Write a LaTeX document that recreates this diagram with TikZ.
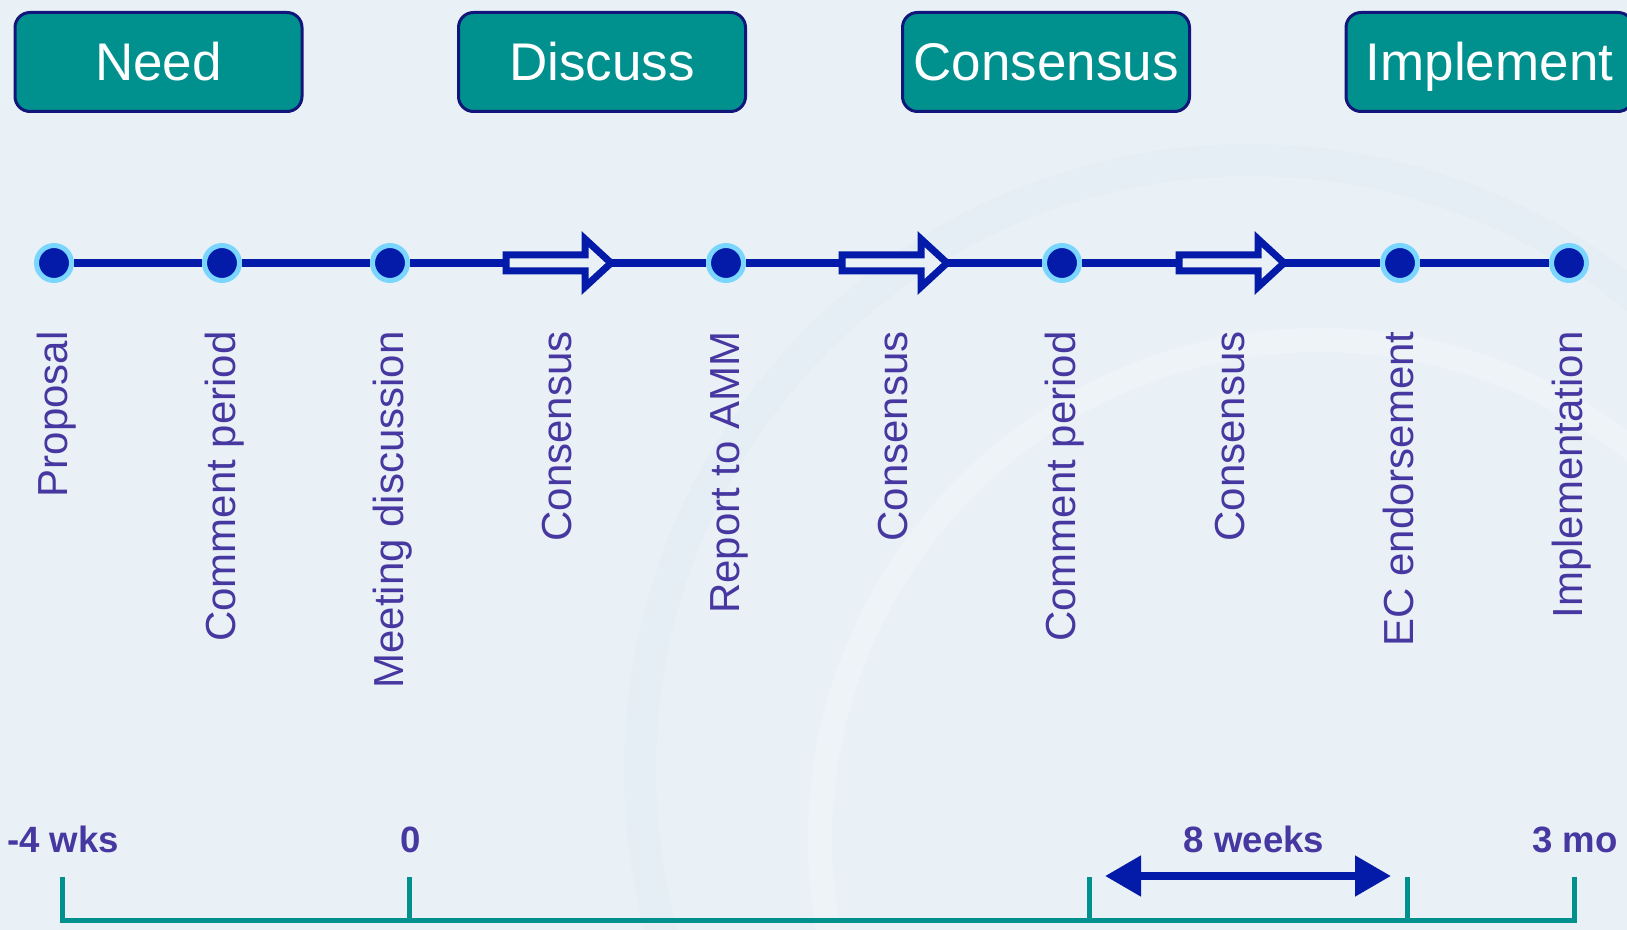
\documentclass[tikz,border=0pt]{standalone}
\usepackage{fontspec}
\setmainfont{Liberation Sans}
\usetikzlibrary{arrows.meta, positioning, calc}

\definecolor{bgblue}{RGB}{234,241,246}
\definecolor{swirlblue}{RGB}{229,237,245}
\definecolor{boxteal}{RGB}{0,145,143}
\definecolor{boxline}{RGB}{16,22,122}
\definecolor{lineblue}{RGB}{4,26,168}
\definecolor{ringblue}{RGB}{122,214,255}
\definecolor{labelpurple}{RGB}{70,56,160}

\begin{document}
\begin{tikzpicture}[x=0.5pt, y=-0.5pt,
    phase/.style={draw=boxline, line width=1.5pt, fill=boxteal, rounded corners=7.5pt,
        minimum width=143.5pt, minimum height=49.5pt, inner sep=0pt, text=white,
        font=\fontsize{26.5}{30}\selectfont, text height=19pt, text depth=0pt},
    milestone/.style={circle, draw=ringblue, line width=2.5pt, fill=lineblue,
        minimum size=17.5pt, inner sep=0pt},
    event/.style={rotate=90, anchor=east, inner sep=0pt, text=labelpurple,
        font=\fontsize{21}{24}\selectfont, text height=17.85pt, text depth=4.2pt},
    tick label/.style={anchor=base, inner sep=0pt, text=labelpurple,
        font=\fontsize{18.3}{21}\selectfont\bfseries},
    timeline/.style={lineblue, line width=4pt},
    bracket/.style={boxteal, line width=2.5pt},
    blockarrow/.pic={
        \draw[lineblue, line width=3.5pt, fill=bgblue]
            (-52,-8) -- (27,-8) -- (27,-24) -- (53,0) -- (27,24) -- (27,8) -- (-52,8) -- cycle;
    }
]

% Background
\fill[bgblue] (0,0) rectangle (1627,930);
\clip (0,0) rectangle (1627,930);
\draw[swirlblue, line width=16pt] (1250,770) circle[radius=610];
\draw[white, opacity=0.18, line width=12pt] (1320,840) circle[radius=500];

% Phases
\node[phase] (need) at (158.5,62) {Need};
\node[phase] (discuss) at (602,62) {Discuss};
\node[phase] (consensus) at (1046,62) {Consensus};
\node[phase] (implement) at (1489.5,62) {Implement};

% Milestones
\node[milestone] (d1) at (54,263) {};
\node[milestone] (d2) at (222,263) {};
\node[milestone] (d3) at (390,263) {};
\node[milestone] (d4) at (726,263) {};
\node[milestone] (d5) at (1062,263) {};
\node[milestone] (d6) at (1400,263) {};
\node[milestone] (d7) at (1569,263) {};

\draw[timeline] (d1) -- (d2) -- (d3) -- (d4) -- (d5) -- (d6) -- (d7);

\pic at ($(d3)!0.5!(d4)$) {blockarrow};
\pic at ($(d4)!0.5!(d5)$) {blockarrow};
\pic at ($(d5)!0.5!(d6)$) {blockarrow};

% Labels
\node[event] (proposal) at (54,331) {Proposal};
\node[event] (comment1) at (222,331) {Comment period};
\node[event] (meeting) at (390,331) {Meeting discussion};
\node[event] (cons1) at (558,331) {Consensus};
\node[event] (report) at (726,331) {Report to AMM};
\node[event] (cons2) at (894,331) {Consensus};
\node[event] (comment2) at (1062,331) {Comment period};
\node[event] (cons3) at (1231,331) {Consensus};
\node[event] (endorse) at (1400,331) {EC endorsement};
\node[event] (implementation) at (1569,331) {Implementation};

% Scale
\draw[bracket] (62,877) -- (62,920) -- (1574,920) -- (1574,877);
\foreach \x in {409,1089,1407}
    \draw[bracket] (\x,877) -- (\x,920);

\node[tick label] (minus4) at (63,852) {-4 wks};
\node[tick label] (zero) at (411,852) {0};
\node[tick label] (eight) at (1254,852) {8 weeks};
\node[tick label] (three) at (1575,852) {3 mo};

\coordinate (span start) at (1105,876);
\coordinate (span end) at (1391,876);
\draw[lineblue, line width=4pt, {Triangle[length=18pt,width=19.5pt]}-{Triangle[length=18pt,width=19.5pt]}]
    (span start) -- (span end);
\end{tikzpicture}
\end{document}
